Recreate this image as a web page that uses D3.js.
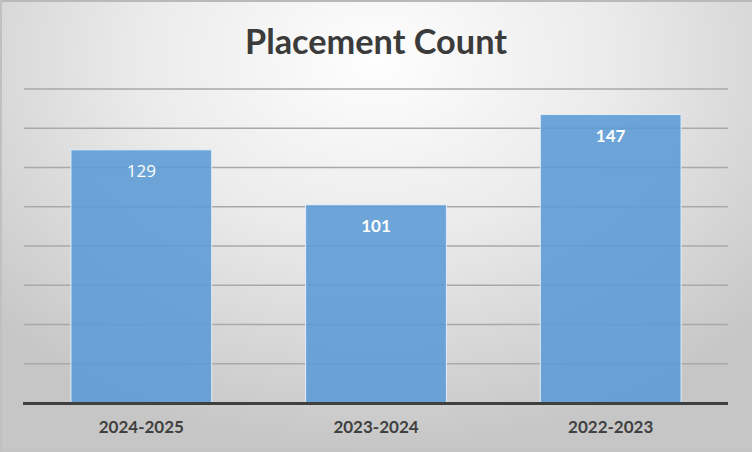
<!DOCTYPE html>
<html><head><meta charset="utf-8">
<script src="https://cdn.jsdelivr.net/npm/d3@7"></script>
<style>html,body{margin:0;padding:0;background:#fff;}svg{display:block;}</style>
</head><body>
<script>
const categories = ["2024-2025", "2023-2024", "2022-2023"];
const values = [129, 101, 147];
const labelBold = [false, true, true];
const yTicks = [0, 20, 40, 60, 80, 100, 120, 140, 160];
const title = "Placement Count";

const W = 752, H = 452;
const svg = d3.select("body").append("svg").attr("width", W).attr("height", H);
const defs = svg.append("defs");
const rg = defs.append("radialGradient").attr("id","bg")
  .attr("gradientUnits","userSpaceOnUse").attr("cx",376).attr("cy",60).attr("r",520)
  .attr("gradientTransform","translate(376,60) scale(1,0.75) translate(-376,-60)");
rg.append("stop").attr("offset","0").attr("stop-color","#fefefe");
rg.append("stop").attr("offset","0.45").attr("stop-color","#ebebeb");
rg.append("stop").attr("offset","1").attr("stop-color","#c6c6c6");
svg.append("rect").attr("width",W).attr("height",H).attr("fill","url(#bg)");
svg.append("rect").attr("x",0).attr("y",0).attr("width",W).attr("height",2).attr("fill","#b9b9b9");
svg.append("rect").attr("x",0).attr("y",449).attr("width",W).attr("height",3).attr("fill","#c4c4c4");
svg.append("rect").attr("x",0).attr("y",0).attr("width",2).attr("height",H).attr("fill","#c0c0c0");

const x = d3.scaleBand().domain(categories).range([24, 728]).paddingInner(0.4).paddingOuter(0.2);
const y = d3.scaleLinear().domain([0, 160]).range([403, 89]);

// gridlines
svg.append("g").selectAll("line").data(yTicks.filter(d => d > 0)).join("line")
  .attr("x1", 24).attr("x2", 728)
  .attr("y1", d => y(d)).attr("y2", d => y(d))
  .attr("stroke", "#a9a9a9").attr("stroke-width", 1.5);

// bars
svg.append("g").selectAll("rect").data(values).join("rect")
  .attr("x", (d,i) => x(categories[i]))
  .attr("width", x.bandwidth())
  .attr("y", d => y(d))
  .attr("height", d => y(0) - y(d))
  .attr("fill", "rgb(91,155,213)").attr("fill-opacity", 0.88)
  .attr("stroke", "#e3eef9").attr("stroke-width", 1);

// value labels
svg.append("g").selectAll("text").data(values).join("text")
  .attr("x", (d,i) => x(categories[i]) + x.bandwidth()/2)
  .attr("y", d => y(d) + 27)
  .attr("text-anchor", "middle")
  .attr("font-family", (d,i) => labelBold[i] ? "Lato, 'Open Sans', sans-serif" : "'Open Sans', Lato, sans-serif")
  .attr("font-size", 17)
  .attr("font-weight", (d,i) => labelBold[i] ? "bold" : "normal")
  .attr("fill", "#ffffff")
  .text(d => d);

// baseline
svg.append("line").attr("x1", 23).attr("x2", 728).attr("y1", y(0)+0.5).attr("y2", y(0)+0.5)
  .attr("stroke", "#404040").attr("stroke-width", 3);

// x axis labels
const xAxis = d3.axisBottom(x).tickSize(0).tickPadding(0);
const gx = svg.append("g").attr("transform", `translate(0,${y(0)})`).call(xAxis);
gx.select(".domain").remove();
gx.selectAll("text")
  .attr("y", 30).attr("dy", 0)
  .attr("font-family", "Lato, 'Open Sans', sans-serif")
  .attr("font-size", 17).attr("font-weight", "bold")
  .attr("fill", "#404040");

// title
svg.append("text").attr("x", 376).attr("y", 54)
  .attr("text-anchor", "middle")
  .attr("font-family", "Lato, 'Open Sans', sans-serif")
  .attr("font-size", 35).attr("font-weight", "bold")
  .attr("fill", "#3b3b3b")
  .attr("textLength", 262).attr("lengthAdjust", "spacingAndGlyphs")
  .text(title);
</script>
</body></html>
